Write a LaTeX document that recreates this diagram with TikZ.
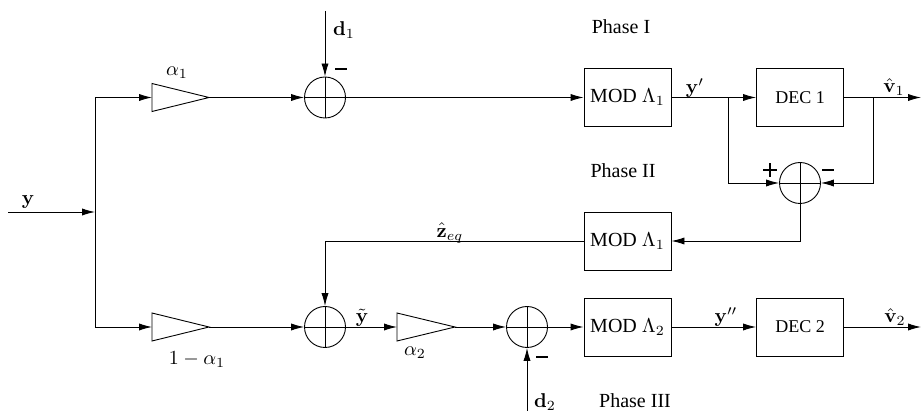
\documentclass[tikz,border=0pt]{standalone}
\usepackage{bm}
\usepackage[no-math]{fontspec}
\setmainfont{Liberation Serif}
\usetikzlibrary{arrows.meta,calc}
\newcommand{\thickminus}{\rule[-0.55pt]{6pt}{1.1pt}}
\newcommand{\thickplus}{\rlap{\rule[-0.55pt]{7pt}{1.1pt}}\makebox[7pt][c]{\rule[-3.5pt]{1.1pt}{7pt}}}
\begin{document}
\begin{tikzpicture}[x=0.5pt,y=-0.5pt,
  every path/.style={line width=0.45pt},
  arr/.style={-{Latex[length=6.5pt,width=3.6pt]}},
  sumnode/.style={circle,draw,minimum size=20.5pt,inner sep=0pt},
  blk/.style={draw,minimum width=43.5pt,minimum height=29pt,inner sep=0pt},
  lbl/.style={inner sep=0pt}]
\useasboundingbox (0,0) rectangle (922,411);
% coordinates
\coordinate (in) at (8,212);
\coordinate (J) at (95,212);
\coordinate (Jt) at (95,97.5);
\coordinate (Jb) at (95,327);
\coordinate (g1in) at (152,97.5);
\coordinate (g1out) at (209,97.5);
\coordinate (g2in) at (152,327);
\coordinate (g2out) at (209,327);
\coordinate (g3in) at (397,327);
\coordinate (g3out) at (455,327);
\coordinate (d1top) at (325,11);
\coordinate (d2bot) at (527,411);
\coordinate (b1) at (728,97.5);
\coordinate (b2) at (873,97.5);
\coordinate (out1) at (921,97.5);
\coordinate (out2) at (921,327);
% nodes
\node[sumnode] (s1) at (325,97.5) {};
\node[sumnode] (s2) at (800,183) {};
\node[sumnode] (s3) at (325,327) {};
\node[sumnode] (s4) at (527,327) {};
\node[blk] (mod1) at (627.5,97.5) {MOD $\Lambda_1$};
\node[blk] (dec1) at (800,97.5) {\small DEC 1};
\node[blk] (mod1b) at (627.5,241) {MOD $\Lambda_1$};
\node[blk] (mod2) at (627.5,327) {MOD $\Lambda_2$};
\node[blk] (dec2) at (800,327) {\small DEC 2};
% crosses in sum nodes
\foreach \s in {s1,s2,s3,s4}{
  \draw (\s.north) -- (\s.south);
  \draw (\s.west) -- (\s.east);
}
% triangles (amplifiers)
\draw (g1in) -- ++(0,-14) -- (g1out) -- ($(g1in)+(0,14)$) -- cycle;
\draw (g2in) -- ++(0,-14) -- (g2out) -- ($(g2in)+(0,14)$) -- cycle;
\draw (g3in) -- ++(0,-14) -- (g3out) -- ($(g3in)+(0,14)$) -- cycle;
% connectors
\draw[arr] (in) -- (J);
\draw (Jt) -- (Jb);
\draw[arr] (Jt) -- (g1in);
\draw[arr] (g1out) -- (s1.west);
\draw[arr] (d1top) -- (s1.north);
\draw[arr] (s1.east) -- (mod1.west);
\draw[arr] (mod1.east) -- (dec1.west);
\draw[arr] (dec1.east) -- (out1);
\draw[arr] (b1) |- (s2.west);
\draw[arr] (b2) |- (s2.east);
\draw[arr] (s2.south) |- (mod1b.east);
\draw[arr] (mod1b.west) -| (s3.north);
\draw[arr] (Jb) -- (g2in);
\draw[arr] (g2out) -- (s3.west);
\draw[arr] (s3.east) -- (g3in);
\draw[arr] (g3out) -- (s4.west);
\draw[arr] (d2bot) -- (s4.south);
\draw[arr] (s4.east) -- (mod2.west);
\draw[arr] (mod2.east) -- (dec2.west);
\draw[arr] (dec2.east) -- (out2);
% labels
\node[lbl] (ly) at (28,202) {$\mathbf{y}$};
\node[lbl] (la1) at (177,73) {$\alpha_1$};
\node[lbl] (l1a1) at (197,360) {$1-\alpha_1$};
\node[lbl] (la2) at (415,353) {$\alpha_2$};
\node[lbl] (lyt) at (362,318) {$\tilde{\mathbf{y}}$};
\node[lbl] (lz) at (450,233) {$\hat{\mathbf{z}}_{eq}$};
\node[lbl] (ld1) at (344,30) {$\mathbf{d}_1$};
\node[lbl] (lm1) at (341,69) {\thickminus};
\node[lbl] (lyp) at (695,88) {$\mathbf{y}'$};
\node[lbl] (lv1) at (894,87) {$\hat{\mathbf{v}}_1$};
\node[lbl] (lp2) at (770,170) {\thickplus};
\node[lbl] (lm2) at (828,170) {\thickminus};
\node[lbl] (lph1) at (621,27) {Phase I};
\node[lbl] (lph2) at (623,171) {Phase II};
\node[lbl] (lph3) at (635,401) {Phase III};
\node[lbl] (lypp) at (726,317) {$\mathbf{y}''$};
\node[lbl] (lv2) at (895,317) {$\hat{\mathbf{v}}_2$};
\node[lbl] (ld2) at (545,402) {$\mathbf{d}_2$};
\node[lbl] (lm3) at (542,357) {\thickminus};
\end{tikzpicture}
\end{document}
